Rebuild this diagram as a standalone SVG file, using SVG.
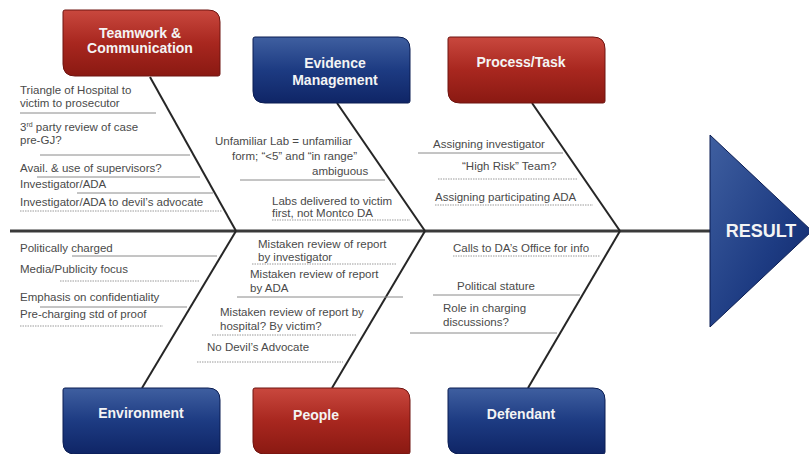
<svg xmlns="http://www.w3.org/2000/svg" xmlns:xlink="http://www.w3.org/1999/xlink" width="809" height="454" viewBox="0 0 809 454">
<style>
.lbl{font-family:"Liberation Sans",Arial,sans-serif;font-size:11.5px;fill:#4a4a4a}
.hd{font-family:"Liberation Sans",Arial,sans-serif;font-size:14px;font-weight:bold;fill:#f4f4f4;text-anchor:middle}
.res{font-family:"Liberation Sans",Arial,sans-serif;font-size:18px;font-weight:bold;fill:#f4f4f4;text-anchor:middle}
.red{fill:url(#gRed);stroke:#6e1410;stroke-width:1}
.blue{fill:url(#gBlue);stroke:#0b1d52;stroke-width:1}
.bone{stroke:#262626;stroke-width:2;fill:none}
.spine{stroke:#3a3a3a;stroke-width:3;fill:none}
.ul{stroke:#8a8a8a;stroke-width:1;fill:none}
.ud{stroke:#9a9a9a;stroke-width:1;stroke-dasharray:1.5 1;fill:none}
</style>
<defs>
<linearGradient id="gRed" x1="0" y1="0" x2="0" y2="1">
<stop offset="0" stop-color="#c9483e"/>
<stop offset="0.5" stop-color="#a8271f"/>
<stop offset="1" stop-color="#8a1912"/>
</linearGradient>
<linearGradient id="gBlue" x1="0" y1="0" x2="0" y2="1">
<stop offset="0" stop-color="#3f5fa0"/>
<stop offset="0.5" stop-color="#1d3b82"/>
<stop offset="1" stop-color="#0f2566"/>
</linearGradient>
<linearGradient id="gTri" x1="0" y1="0" x2="1" y2="1">
<stop offset="0" stop-color="#3f5fa0"/>
<stop offset="0.6" stop-color="#1d3b82"/>
<stop offset="1" stop-color="#0f2566"/>
</linearGradient>
<path id="box" d="M2,0 H145 Q157,0 157,12 V64 Q157,66 155,66 H12 Q0,66 0,54 V2 Q0,0 2,0 Z"/>
</defs>
<rect width="809" height="454" fill="#ffffff"/>

<g id="connectors">
<line class="spine" x1="10" y1="231" x2="712" y2="231"/>
<line class="bone" x1="150" y1="77" x2="236" y2="231"/>
<line class="bone" x1="337" y1="103" x2="425" y2="231"/>
<line class="bone" x1="532" y1="103" x2="620" y2="231"/>
<line class="bone" x1="236" y1="231" x2="142" y2="388"/>
<line class="bone" x1="425" y1="231" x2="332" y2="388"/>
<line class="bone" x1="620" y1="231" x2="528" y2="388"/>
</g>

<g id="teamwork">
<use xlink:href="#box" class="red" transform="translate(63,10)"/>
<text class="hd" x="140" y="38">Teamwork &amp;</text>
<text class="hd" x="140" y="53">Communication</text>
<text class="lbl" x="20" y="94">Triangle  of Hospital to</text>
<text class="lbl" x="20" y="107">victim to prosecutor</text>
<line class="ul" x1="20" y1="113" x2="156" y2="113"/>
<text class="lbl" x="20" y="131">3<tspan font-size="7" dy="-4">rd</tspan><tspan dy="4"> party review  of case</tspan></text>
<text class="lbl" x="20" y="144">pre-GJ?</text>
<line class="ul" x1="40" y1="155" x2="190" y2="155"/>
<text class="lbl" x="20" y="172">Avail.  &amp; use of supervisors?</text>
<line class="ul" x1="37" y1="177" x2="200" y2="177"/>
<text class="lbl" x="20" y="188">Investigator/ADA</text>
<line class="ul" x1="77" y1="193" x2="213" y2="193"/>
<text class="lbl" x="20" y="206">Investigator/ADA  to devil’s advocate</text>
<line class="ud" x1="20" y1="211" x2="222" y2="211"/>
</g>

<g id="evidence">
<use xlink:href="#box" class="blue" transform="translate(253,37)"/>
<text class="hd" x="335" y="68">Evidence</text>
<text class="hd" x="335" y="85">Management</text>
<text class="lbl" x="215" y="145">Unfamiliar  Lab = unfamiliar</text>
<text class="lbl" x="232" y="160">form;  “&lt;5” and “in range”</text>
<text class="lbl" x="312" y="175">ambiguous</text>
<line class="ul" x1="240" y1="180" x2="385" y2="180"/>
<text class="lbl" x="272" y="205">Labs delivered  to victim</text>
<text class="lbl" x="272" y="217">first,  not Montco DA</text>
<line class="ud" x1="272" y1="220" x2="410" y2="220"/>
</g>

<g id="process">
<use xlink:href="#box" class="red" transform="translate(448,37)"/>
<text class="hd" x="521" y="67">Process/Task</text>
<text class="lbl" x="433" y="148">Assigning investigator</text>
<line class="ul" x1="418" y1="153" x2="563" y2="153"/>
<text class="lbl" x="462" y="170">“High Risk” Team?</text>
<line class="ud" x1="438" y1="179" x2="577" y2="179"/>
<text class="lbl" x="435" y="201">Assigning participating ADA</text>
<line class="ud" x1="435" y1="205" x2="593" y2="205"/>
</g>

<g id="environment">
<use xlink:href="#box" class="blue" transform="translate(63,388)"/>
<text class="hd" x="141" y="418">Environment</text>
<text class="lbl" x="20" y="252">Politically charged</text>
<line class="ul" x1="72" y1="256" x2="217" y2="256"/>
<text class="lbl" x="20" y="273">Media/Publicity focus</text>
<line class="ud" x1="60" y1="281" x2="200" y2="281"/>
<text class="lbl" x="20" y="301">Emphasis on confidentiality</text>
<line class="ul" x1="40" y1="307" x2="187" y2="307"/>
<text class="lbl" x="20" y="318">Pre-charging  std of proof</text>
<line class="ud" x1="20" y1="326" x2="163" y2="326"/>
</g>

<g id="people">
<use xlink:href="#box" class="red" transform="translate(253,388)"/>
<text class="hd" x="316" y="420">People</text>
<text class="lbl" x="258" y="248">Mistaken review  of report</text>
<text class="lbl" x="258" y="261">by investigator</text>
<line class="ud" x1="252" y1="264" x2="397" y2="264"/>
<text class="lbl" x="250" y="278">Mistaken review  of report</text>
<text class="lbl" x="250" y="292">by ADA</text>
<line class="ul" x1="237" y1="297" x2="403" y2="297"/>
<text class="lbl" x="220" y="316">Mistaken review  of report by</text>
<text class="lbl" x="220" y="330">hospital?  By victim?</text>
<line class="ud" x1="212" y1="335" x2="357" y2="335"/>
<text class="lbl" x="207" y="351">No Devil’s  Advocate</text>
<line class="ud" x1="197" y1="362" x2="343" y2="362"/>
</g>

<g id="defendant">
<use xlink:href="#box" class="blue" transform="translate(448,388)"/>
<text class="hd" x="521" y="419">Defendant</text>
<text class="lbl" x="453" y="252">Calls to DA’s Office for info</text>
<line class="ud" x1="453" y1="256" x2="600" y2="256"/>
<text class="lbl" x="457" y="290">Political stature</text>
<line class="ul" x1="433" y1="295" x2="580" y2="295"/>
<text class="lbl" x="443" y="312">Role in charging</text>
<text class="lbl" x="443" y="326">discussions?</text>
<line class="ul" x1="410" y1="333" x2="557" y2="333"/>
</g>

<g id="result">
<polygon points="710,135 812,231 710,327" fill="url(#gTri)" stroke="#0b1d52" stroke-width="1"/>
<text class="res" x="761" y="237">RESULT</text>
</g>
</svg>
